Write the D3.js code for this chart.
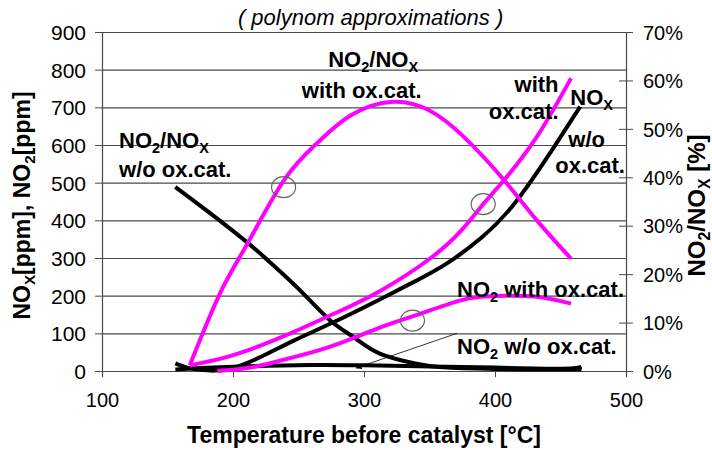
<!DOCTYPE html>
<html lang="en">
<head>
<meta charset="utf-8">
<title>NOx / NO2 vs temperature</title>
<script src="https://d3js.org/d3.v7.min.js"></script>
<style>
  body { margin: 0; background: #fff; }
  svg text { font-family: "Liberation Sans", Arial, sans-serif; fill: #000; }
</style>
</head>
<body>
<svg id="chart" width="712" height="450"></svg>
<script>
// ---- data (temperature in °C) ----
// left axis, ppm
var noxWoT   = [156, 165, 175, 186, 200, 221, 246, 277, 312, 340, 363, 390, 417, 447, 465];
var noxWo    = [20, 9, 3, 1, 8, 37, 80, 130, 190, 240, 285, 355, 454, 605, 702];
var noxWithT = [167, 195, 220, 246, 277, 312, 351, 375, 391, 407, 432, 458];
var noxWith  = [15, 37, 66, 103, 152, 212, 300, 376, 443, 507, 622, 777];
var no2WithT = [188, 211, 230, 250, 277, 312, 337, 371, 389, 410, 435, 458];
var no2With  = [0, 8, 22, 40, 68, 115, 145, 185, 197, 200, 196, 179];
var no2WoT   = [156, 200, 259, 300, 350, 400, 440, 460, 466];
var no2Wo    = [4, 11, 16, 15, 12, 9, 6, 7, 11];
// right axis, %
var ratioWithT = [167, 190, 211, 239, 264, 290, 322, 350, 376, 407, 432, 458];
var ratioWith  = [1.2, 16, 26.3, 39.4, 47, 52.8, 55.6, 53.8, 48.4, 39.4, 31.1, 23.2];
var ratioWoT   = [156, 183, 212, 228, 251, 274, 292, 312, 340, 358, 400, 466];
var ratioWo    = [38, 32.5, 26.3, 22.5, 16.7, 10.5, 7, 3.6, 1.5, 0.8, 0.4, 0.3];

// ticks
var xTicks = [100, 200, 300, 400, 500];
var yLeftTicks = [0, 100, 200, 300, 400, 500, 600, 700, 800, 900];
var yRightTicks = [0, 10, 20, 30, 40, 50, 60, 70];

// marker ellipses (T, ppm) and arrow (T, ppm)
var markT = [238.6, 391, 337];
var markV = [488, 443, 134];
var arrowT = [371, 294];
var arrowV = [100, 8];

var margin = {top: 32, right: 86, bottom: 79, left: 102},
    width = 712 - margin.left - margin.right,
    height = 450 - margin.top - margin.bottom;

var svg = d3.select("#chart")
  .append("g")
  .attr("transform", "translate(" + margin.left + "," + margin.top + ")");

var x = d3.scaleLinear().domain([100, 500]).range([0, width]);
var yL = d3.scaleLinear().domain([0, 900]).range([height, 0]);
var yR = d3.scaleLinear().domain([0, 70]).range([height, 0]);

// grid
svg.append("g")
  .call(d3.axisLeft(yL).tickValues(yLeftTicks).tickSize(-width).tickFormat(""))
  .call(function(g) {
    g.select(".domain").remove();
    g.selectAll("line").attr("stroke", "#4a4a4a").attr("stroke-width", 1.2);
  });

// left axis
svg.append("g")
  .call(d3.axisLeft(yL).tickValues(yLeftTicks).tickSize(7).tickPadding(9))
  .call(function(g) {
    g.select(".domain").attr("stroke", "#4a4a4a").attr("stroke-width", 1.2);
    g.selectAll("line").attr("stroke", "#4a4a4a");
    g.selectAll("text").attr("font-size", 21).attr("dy", "0.36em");
  });

// bottom axis
svg.append("g")
  .attr("transform", "translate(0," + height + ")")
  .call(d3.axisBottom(x).tickValues(xTicks).tickSize(6).tickPadding(16))
  .call(function(g) {
    g.select(".domain").attr("stroke", "#4a4a4a").attr("stroke-width", 1.2);
    g.selectAll("line").attr("stroke", "#4a4a4a");
    g.selectAll("text").attr("font-size", 20);
  });

// right axis
svg.append("g")
  .attr("transform", "translate(" + width + ",0)")
  .call(d3.axisRight(yR).tickValues(yRightTicks).tickSize(7).tickPadding(10)
        .tickFormat(function(d) { return d + "%"; }))
  .call(function(g) {
    g.select(".domain").attr("stroke", "#4a4a4a").attr("stroke-width", 1.2);
    g.selectAll("line").attr("stroke", "#4a4a4a").attr("x1", -7);
    g.selectAll("text").attr("font-size", 20).attr("dy", "0.36em");
  });

// curves
function drawCurve(ts, vs, yScale, color) {
  var pts = ts.map(function(t, i) { return [t, vs[i]]; });
  var line = d3.line()
    .x(function(d) { return x(d[0]); })
    .y(function(d) { return yScale(d[1]); })
    .curve(d3.curveNatural);
  svg.append("path")
    .datum(pts)
    .attr("d", line)
    .attr("fill", "none")
    .attr("stroke", color)
    .attr("stroke-width", 4)
    .attr("stroke-linejoin", "round");
}
drawCurve(no2WoT, no2Wo, yL, "#000");
drawCurve(ratioWoT, ratioWo, yR, "#000");
drawCurve(noxWoT, noxWo, yL, "#000");
drawCurve(no2WithT, no2With, yL, "#ff00ff");
drawCurve(noxWithT, noxWith, yL, "#ff00ff");
drawCurve(ratioWithT, ratioWith, yR, "#ff00ff");

// marker ellipses
svg.selectAll(".mark")
  .data(markT)
  .enter().append("ellipse")
  .attr("cx", function(d) { return x(d); })
  .attr("cy", function(d, i) { return yL(markV[i]); })
  .attr("rx", 12).attr("ry", 10.5)
  .attr("fill", "none")
  .attr("stroke", "#666")
  .attr("stroke-width", 1.2);

// arrow
svg.append("defs").append("marker")
  .attr("id", "arr")
  .attr("viewBox", "0 0 10 10")
  .attr("refX", 9).attr("refY", 5)
  .attr("markerWidth", 12).attr("markerHeight", 6)
  .attr("markerUnits", "userSpaceOnUse")
  .attr("orient", "auto")
  .append("path").attr("d", "M0,0L10,5L0,10z").attr("fill", "#000");
svg.append("line")
  .attr("x1", x(arrowT[0])).attr("y1", yL(arrowV[0]))
  .attr("x2", x(arrowT[1])).attr("y2", yL(arrowV[1]))
  .attr("stroke", "#000").attr("stroke-width", 0.8)
  .attr("marker-end", "url(#arr)");

// rich text helper: parts = [[text, isSub], ...]
function rich(parent, parts, px, py, size, anchor, rotate) {
  var t = parent.append("text")
    .attr("font-size", size)
    .attr("font-weight", "bold")
    .attr("text-anchor", anchor || "start");
  if (rotate) {
    t.attr("transform", "translate(" + px + "," + py + ") rotate(-90)");
  } else {
    t.attr("x", px).attr("y", py);
  }
  var shift = 0;
  parts.forEach(function(p) {
    var s = t.append("tspan").text(p[0]);
    if (p[1] && shift === 0) { s.attr("dy", 5).attr("font-size", size * 0.66); shift = 5; }
    else if (p[1]) { s.attr("font-size", size * 0.66); }
    else if (shift !== 0) { s.attr("dy", -shift); shift = 0; }
  });
  return t;
}

var ratioParts = [["NO", 0], ["2", 1], ["/NO", 0], ["X", 1]];

// curve labels (anchored in data coords: T, ppm)
rich(svg, ratioParts, x(113), yL(591), 22);
rich(svg, [["w/o ox.cat.", 0]], x(113), yL(514), 22);
rich(svg, ratioParts, x(307), yL(807), 22, "middle");
rich(svg, [["with ox.cat.", 0]], x(344), yL(724), 22, "end");
rich(svg, [["with", 0]], x(448.5), yL(741), 22, "end");
rich(svg, [["ox.cat.", 0]], x(448.5), yL(670), 22, "end");
rich(svg, [["NO", 0], ["X", 1]], x(457.5), yL(706), 22);
rich(svg, [["w/o", 0]], x(456), yL(595), 22);
rich(svg, [["ox.cat.", 0]], x(446), yL(525), 22);
rich(svg, [["NO", 0], ["2", 1], [" with ox.cat.", 0]], x(371), yL(197), 22);
rich(svg, [["NO", 0], ["2", 1], [" w/o ox.cat.", 0]], x(371), yL(46), 22);

// title
svg.append("text")
  .attr("x", x(305)).attr("y", -7)
  .attr("text-anchor", "middle")
  .attr("font-size", 22)
  .attr("font-style", "italic")
  .text("( polynom approximations )");

// axis titles
svg.append("text")
  .attr("x", x(300)).attr("y", height + 72)
  .attr("text-anchor", "middle")
  .attr("font-size", 23)
  .attr("font-weight", "bold")
  .text("Temperature before catalyst [°C]");

rich(svg, [["NO", 0], ["X", 1], ["[ppm], NO", 0], ["2", 1], ["[ppm]", 0]],
     -72, height / 2 + 4, 23, "middle", true);
rich(svg, [["NO", 0], ["2", 1], ["/NO", 0], ["X", 1], [" [%]", 0]],
     width + 79, height / 2 + 4, 24, "middle", true);
</script>
</body>
</html>
